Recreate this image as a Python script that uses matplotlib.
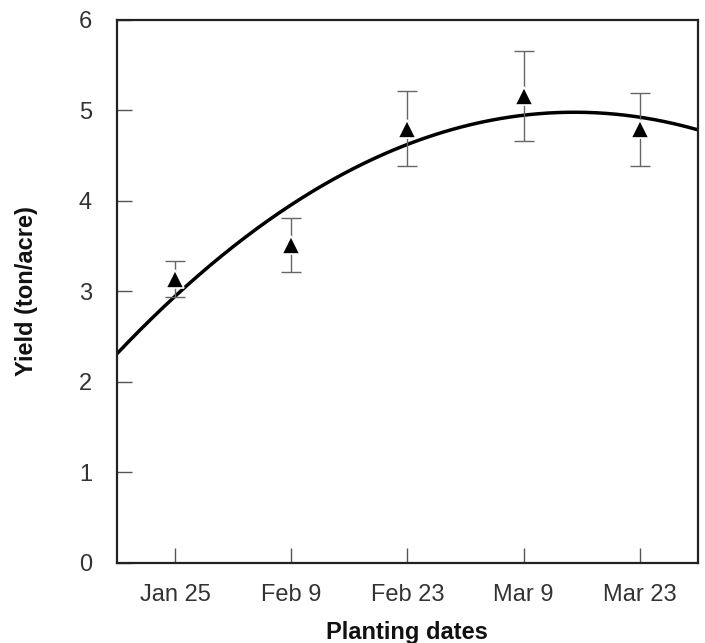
import numpy as np
import matplotlib
matplotlib.use("Agg")
import matplotlib.pyplot as plt

plt.rcParams['font.family'] = ['Liberation Sans', 'DejaVu Sans']

dates = ["Jan 25", "Feb 9", "Feb 23", "Mar 9", "Mar 23"]
yield_vals = [3.14, 3.51, 4.80, 5.16, 4.79]
yield_err = [0.20, 0.30, 0.41, 0.50, 0.40]

x = np.arange(1, len(dates) + 1)

fig = plt.figure(figsize=(7.05, 6.43), dpi=100)
ax = fig.add_axes([0.166, 0.1249, 0.8237, 0.844])

# quadratic trendline fitted to the means
coef = np.polyfit(x, yield_vals, 2)
xs = np.linspace(0.5, 5.5, 300)
ax.plot(xs, np.polyval(coef, xs), color='black', lw=2.5, zorder=2, solid_capstyle='butt')

ax.errorbar(x, yield_vals, yerr=yield_err, fmt='none', ecolor='#666666',
            elinewidth=1.0, capsize=7, capthick=1.0, zorder=3)
ax.plot(x, yield_vals, linestyle='none', marker='^', markersize=13,
        markerfacecolor='black', markeredgecolor='white', markeredgewidth=1.2, zorder=4)

ax.set_xlim(0.5, 5.5)
ax.set_ylim(0, 6)
ax.set_xticks(x)
ax.set_xticklabels(dates)
ax.set_yticks(range(0, 7))

for s in ax.spines.values():
    s.set_linewidth(1.6)
    s.set_color('#222222')

ax.tick_params(axis='x', direction='in', length=11, width=1, color='#555555',
               labelsize=17, labelcolor='#333333', pad=15)
ax.tick_params(axis='y', direction='in', length=11, width=1, color='#555555',
               labelsize=17, labelcolor='#333333', pad=18)

ax.set_ylabel("Yield (ton/acre)", fontsize=17, fontweight='bold', color='#111111')
ax.set_xlabel("Planting dates", fontsize=17, fontweight='bold', color='#111111')
ax.yaxis.set_label_coords(-0.136, 0.5)
ax.xaxis.set_label_coords(0.5, -0.108)

fig.savefig("out.png", dpi=100)
